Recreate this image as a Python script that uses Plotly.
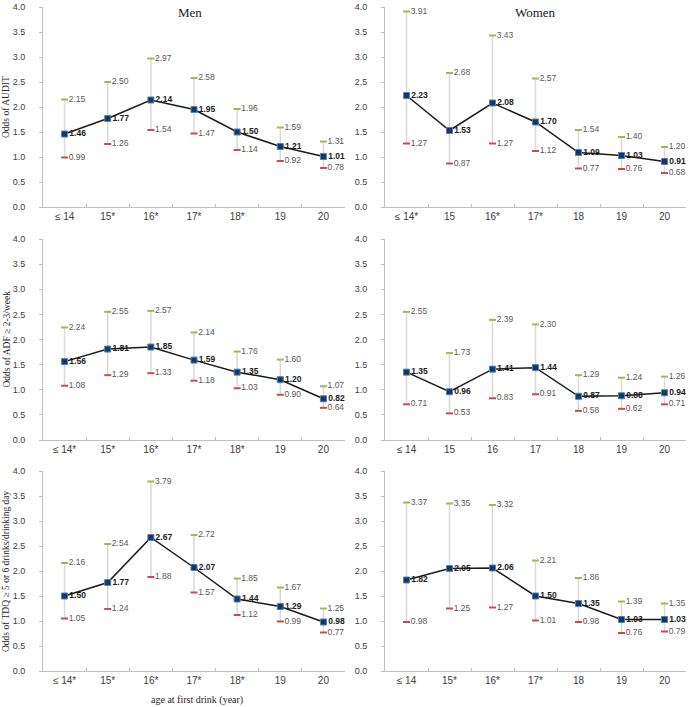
import plotly.graph_objects as go
from plotly.subplots import make_subplots

# categories per panel (asterisk = significant)
cats_men_audit = ["≤ 14", "15*", "16*", "17*", "18*", "19", "20"]
cats_women_audit = ["≤ 14*", "15", "16*", "17*", "18", "19", "20"]
cats_men_adf = ["≤ 14*", "15*", "16*", "17*", "18*", "19", "20"]
cats_women_adf = ["≤ 14", "15", "16", "17", "18", "19", "20"]
cats_men_tdq = ["≤ 14*", "15*", "16*", "17*", "18*", "19", "20"]
cats_women_tdq = ["≤ 14", "15*", "16*", "17*", "18", "19", "20"]

# odds ratios, lower and upper 95% CI
men_audit = [1.46, 1.77, 2.14, 1.95, 1.50, 1.21, 1.01]
men_audit_lo = [0.99, 1.26, 1.54, 1.47, 1.14, 0.92, 0.78]
men_audit_hi = [2.15, 2.50, 2.97, 2.58, 1.96, 1.59, 1.31]

women_audit = [2.23, 1.53, 2.08, 1.70, 1.09, 1.03, 0.91]
women_audit_lo = [1.27, 0.87, 1.27, 1.12, 0.77, 0.76, 0.68]
women_audit_hi = [3.91, 2.68, 3.43, 2.57, 1.54, 1.40, 1.20]

men_adf = [1.56, 1.81, 1.85, 1.59, 1.35, 1.20, 0.82]
men_adf_lo = [1.08, 1.29, 1.33, 1.18, 1.03, 0.90, 0.64]
men_adf_hi = [2.24, 2.55, 2.57, 2.14, 1.76, 1.60, 1.07]

women_adf = [1.35, 0.96, 1.41, 1.44, 0.87, 0.88, 0.94]
women_adf_lo = [0.71, 0.53, 0.83, 0.91, 0.58, 0.62, 0.71]
women_adf_hi = [2.55, 1.73, 2.39, 2.30, 1.29, 1.24, 1.26]

men_tdq = [1.50, 1.77, 2.67, 2.07, 1.44, 1.29, 0.98]
men_tdq_lo = [1.05, 1.24, 1.88, 1.57, 1.12, 0.99, 0.77]
men_tdq_hi = [2.16, 2.54, 3.79, 2.72, 1.85, 1.67, 1.25]

women_tdq = [1.82, 2.05, 2.06, 1.50, 1.35, 1.03, 1.03]
women_tdq_lo = [0.98, 1.25, 1.27, 1.01, 0.98, 0.76, 0.79]
women_tdq_hi = [3.37, 3.35, 3.32, 2.21, 1.86, 1.39, 1.35]

y_titles = ["Odds of AUDIT", "Odds of ADF ≥ 2-3/week",
            "Odds of TDQ ≥ 5 or 6 drinks/drinking day"]

panels = [
    (1, 1, cats_men_audit, men_audit, men_audit_lo, men_audit_hi),
    (1, 2, cats_women_audit, women_audit, women_audit_lo, women_audit_hi),
    (2, 1, cats_men_adf, men_adf, men_adf_lo, men_adf_hi),
    (2, 2, cats_women_adf, women_adf, women_adf_lo, women_adf_hi),
    (3, 1, cats_men_tdq, men_tdq, men_tdq_lo, men_tdq_hi),
    (3, 2, cats_women_tdq, women_tdq, women_tdq_lo, women_tdq_hi),
]

SANS = "Liberation Sans, Arial, sans-serif"
SERIF = "Liberation Serif, Times New Roman, serif"
GRAY_TXT = "#595959"
LBL = 8.5

fig = make_subplots(rows=3, cols=2)

for row, col, cats, orr, lo, hi in panels:
    # CI whiskers
    fig.add_trace(go.Scatter(
        x=cats, y=orr, mode="none", showlegend=False, hoverinfo="skip",
        error_y=dict(type="data", symmetric=False,
                     array=[h - o for h, o in zip(hi, orr)],
                     arrayminus=[o - l for o, l in zip(orr, lo)],
                     color="#D9D9D9", thickness=1.5, width=0)), row, col)
    # upper caps + labels
    fig.add_trace(go.Scatter(
        x=cats, y=hi, mode="markers+text", showlegend=False,
        marker=dict(symbol="line-ew", size=5, line=dict(color="#9BBB59", width=2)),
        text=["%.2f" % v for v in hi], textposition="middle right",
        textfont=dict(family=SANS, size=LBL, color=GRAY_TXT)), row, col)
    # lower caps + labels
    fig.add_trace(go.Scatter(
        x=cats, y=lo, mode="markers+text", showlegend=False,
        marker=dict(symbol="line-ew", size=5, line=dict(color="#C0504D", width=2)),
        text=["%.2f" % v for v in lo], textposition="middle right",
        textfont=dict(family=SANS, size=LBL, color=GRAY_TXT)), row, col)
    # odds line
    fig.add_trace(go.Scatter(
        x=cats, y=orr, mode="lines+markers+text", showlegend=False,
        line=dict(color="#1A1A1A", width=1.5),
        marker=dict(symbol="square", size=6, color="#17375E",
                    line=dict(color="#4F81BD", width=1)),
        text=["<b>%.2f</b>" % v for v in orr], textposition="middle right",
        textfont=dict(family=SANS, size=LBL, color="#1A1A1A")), row, col)

x_dom = {1: [43 / 689, 345 / 689], 2: [385 / 689, 686 / 689]}
y_dom = {1: [1 - 207 / 707, 1 - 7 / 707],
         2: [1 - 440 / 707, 1 - 239 / 707],
         3: [1 - 671 / 707, 1 - 471 / 707]}

for row, col, cats, *_ in panels:
    fig.update_xaxes(type="category", categoryorder="array", categoryarray=cats,
                     range=[-0.5, 6.5], domain=x_dom[col], automargin=False,
                     showline=True, linecolor="#BFBFBF", linewidth=1,
                     ticks="inside", tickson="boundaries", ticklen=3,
                     tickcolor="#BFBFBF", showgrid=False, zeroline=False,
                     tickfont=dict(family=SANS, size=10, color="#404040"),
                     row=row, col=col)
    fig.update_yaxes(range=[0, 4], dtick=0.5, tickformat=".1f", domain=y_dom[row],
                     automargin=False, ticklabelstandoff=12,
                     showline=True, linecolor="#BFBFBF", linewidth=1,
                     ticks="outside", ticklen=3, tickcolor="#BFBFBF",
                     showgrid=False, zeroline=False,
                     tickfont=dict(family=SANS, size=9, color="#404040"),
                     row=row, col=col)

annotations = [
    dict(text="Men", x=190 / 689, y=1 - 12 / 707),
    dict(text="Women", x=535 / 689, y=1 - 12 / 707),
]
for a in annotations:
    a.update(xref="paper", yref="paper", showarrow=False,
             xanchor="center", yanchor="middle",
             font=dict(family=SERIF, size=13, color="#1A1A1A"))

for i, t in enumerate(y_titles):
    d = y_dom[i + 1]
    annotations.append(dict(
        text=t, x=6 / 689, y=(d[0] + d[1]) / 2, xref="paper", yref="paper",
        textangle=-90, showarrow=False, xanchor="center", yanchor="middle",
        font=dict(family=SERIF, size=9.5, color="#262626")))

annotations.append(dict(
    text="age at first drink (year)", x=197 / 689, y=1 - 700 / 707,
    xref="paper", yref="paper", showarrow=False, xanchor="center", yanchor="middle",
    font=dict(family=SERIF, size=10, color="#262626")))

fig.update_layout(width=689, height=707, margin=dict(l=0, r=0, t=0, b=0),
                  plot_bgcolor="white", paper_bgcolor="white",
                  annotations=annotations)

# the default page has an 8px body margin; drop it so the figure fills the window
fig.write_html("out.html", config={"displayModeBar": False},
               post_script="document.body.style.margin='0';"
                           "document.body.style.overflow='hidden';")
